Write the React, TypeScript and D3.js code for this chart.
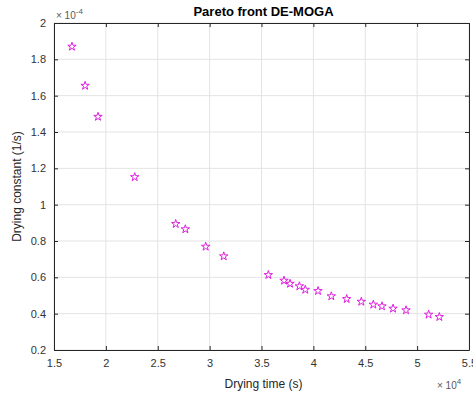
import { useEffect, useRef } from "react"
import * as d3 from "d3"

// Drying time (x10^4 s) and drying constant (x10^-4 1/s)
const dryingTime = [1.673, 1.80, 1.924, 2.278, 2.673, 2.766, 2.962, 3.136, 3.566, 3.717, 3.775, 3.865, 3.922, 4.045, 4.173, 4.321, 4.462, 4.578, 4.661, 4.768, 4.893, 5.111, 5.214]
const dryingConst = [1.870, 1.655, 1.484, 1.152, 0.894, 0.865, 0.769, 0.716, 0.613, 0.582, 0.565, 0.551, 0.532, 0.525, 0.496, 0.481, 0.466, 0.450, 0.441, 0.428, 0.419, 0.395, 0.382]
const xTicks = [1.5, 2, 2.5, 3, 3.5, 4, 4.5, 5, 5.5]
const yTicks = [0.2, 0.4, 0.6, 0.8, 1, 1.2, 1.4, 1.6, 1.8, 2]

const W = 473, H = 396
const m = { top: 23, right: 4, bottom: 46, left: 54 }
const FONT = "'Liberation Sans', Arial, sans-serif"

export default function App() {
  const ref = useRef<SVGSVGElement>(null)
  useEffect(() => {
    if (!ref.current) return
    const root = d3.select(ref.current)
    root.selectAll("*").remove()
    const iw = W - m.left - m.right, ih = H - m.top - m.bottom
    const x = d3.scaleLinear().domain([1.5, 5.5]).range([0, iw])
    const y = d3.scaleLinear().domain([0.2, 2]).range([ih, 0])
    root.append("rect").attr("width", W).attr("height", H).attr("fill", "#fff")
    const g = root.append("g").attr("transform", `translate(${m.left},${m.top})`)

    // grid
    g.selectAll(".gx").data(xTicks).join("line").attr("class", "gx")
      .attr("x1", d => x(d)).attr("x2", d => x(d)).attr("y1", 0).attr("y2", ih)
      .attr("stroke", "#e3e3e3").attr("stroke-width", 1)
    g.selectAll(".gy").data(yTicks).join("line").attr("class", "gy")
      .attr("y1", d => y(d)).attr("y2", d => y(d)).attr("x1", 0).attr("x2", iw)
      .attr("stroke", "#e3e3e3").attr("stroke-width", 1)

    const styleAxis = (a: d3.Selection<SVGGElement, unknown, null, undefined>, noText = false) => {
      a.select(".domain").attr("stroke", "#262626")
      a.selectAll(".tick line").attr("stroke", "#262626")
      a.selectAll("text").style("font-family", FONT).style("font-size", "11px").attr("fill", noText ? "none" : "#333")
    }
    const fmt = (d: d3.NumberValue) => String(+d)
    g.append("g").attr("transform", `translate(0,${ih})`)
      .call(d3.axisBottom(x).tickValues(xTicks).tickSize(-4).tickPadding(9).tickFormat(fmt).tickSizeOuter(0))
      .call(a => styleAxis(a))
    g.append("g")
      .call(d3.axisLeft(y).tickValues(yTicks).tickSize(-4).tickPadding(8).tickFormat(fmt).tickSizeOuter(0))
      .call(a => styleAxis(a))
    g.append("g")
      .call(d3.axisTop(x).tickValues(xTicks).tickSize(-4).tickFormat(() => "").tickSizeOuter(0))
      .call(a => styleAxis(a, true))
    g.append("g").attr("transform", `translate(${iw},0)`)
      .call(d3.axisRight(y).tickValues(yTicks).tickSize(-4).tickFormat(() => "").tickSizeOuter(0))
      .call(a => styleAxis(a, true))

    // points
    const star = d3.symbol().type(d3.symbolStar).size(22)
    g.selectAll(".pt").data(dryingTime).join("path").attr("class", "pt")
      .attr("transform", (d, i) => `translate(${x(d)},${y(dryingConst[i])})`)
      .attr("d", star()!).attr("fill", "none").attr("stroke", "#e01ee0").attr("stroke-width", 1)

    // texts
    root.append("text").attr("x", m.left + iw / 2 + 2).attr("y", 16).attr("text-anchor", "middle")
      .style("font-family", FONT).style("font-size", "13px").style("font-weight", "bold").attr("fill", "#000")
      .text("Pareto front DE-MOGA")
    root.append("text").attr("x", m.left + iw / 2 + 2).attr("y", 388).attr("text-anchor", "middle")
      .style("font-family", FONT).style("font-size", "12px").attr("fill", "#262626").text("Drying time (s)")
    root.append("text").attr("transform", `translate(21,${m.top + ih / 2}) rotate(-90)`).attr("text-anchor", "middle")
      .style("font-family", FONT).style("font-size", "12px").attr("fill", "#262626").text("Drying constant (1/s)")
    const ey = root.append("text").attr("x", 56).attr("y", 19)
      .style("font-family", FONT).style("font-size", "10px").attr("fill", "#595959")
    ey.append("tspan").text("\u00d7 10")
    ey.append("tspan").attr("dy", -5).style("font-size", "8px").text("-4")
    const ex = root.append("text").attr("x", 437).attr("y", 389)
      .style("font-family", FONT).style("font-size", "10px").attr("fill", "#595959")
    ex.append("tspan").text("\u00d7 10")
    ex.append("tspan").attr("dy", -5).style("font-size", "8px").text("4")
  }, [])
  return (
    <div style={{ position: "absolute", left: 0, top: 0 }}>
      <svg ref={ref} width={W} height={H} style={{ display: "block" }} />
    </div>
  )
}
